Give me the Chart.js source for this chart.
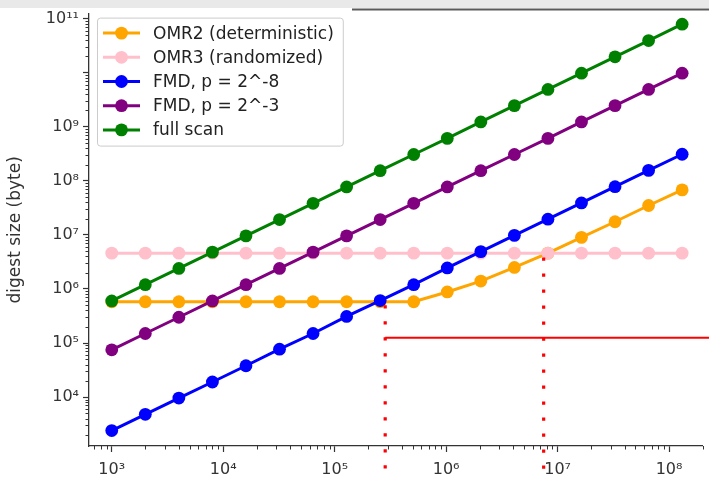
<!DOCTYPE html>
<html>
<head>
<meta charset="utf-8">
<script src="https://cdn.jsdelivr.net/npm/chart.js@4/dist/chart.umd.min.js"></script>
<style>
  html, body { margin: 0; padding: 0; background: #fff; }
  canvas { display: block; }
</style>
</head>
<body>
<canvas id="digest-chart" width="709" height="477"></canvas>
<script>
// Data (log-log, x doubles each step)
const xValues = [1000, 2000, 4000, 8000, 16000, 32000, 64000, 128000, 256000, 512000,
  1024000, 2048000, 4096000, 8192000, 16384000, 32768000, 65536000, 131072000];
const omr2 = [5.8e5, 5.8e5, 5.8e5, 5.8e5, 5.8e5, 5.8e5, 5.8e5, 5.8e5, 5.8e5, 5.8e5,
  8.8e5, 1.4e6, 2.5e6, 4.6e6, 9.0e6, 1.75e7, 3.5e7, 6.8e7];
const omr3 = [4.6e6, 4.6e6, 4.6e6, 4.6e6, 4.6e6, 4.6e6, 4.6e6, 4.6e6, 4.6e6, 4.6e6,
  4.6e6, 4.6e6, 4.6e6, 4.6e6, 4.6e6, 4.6e6, 4.6e6, 4.6e6];
const fmd8 = [2.4e3, 4.8e3, 9.6e3, 1.9e4, 3.8e4, 7.7e4, 1.5e5, 3.1e5, 6.1e5, 1.2e6,
  2.45e6, 4.9e6, 9.8e6, 1.95e7, 3.9e7, 7.8e7, 1.56e8, 3.1e8];
const fmd3 = [7.5e4, 1.5e5, 3.0e5, 6.0e5, 1.2e6, 2.4e6, 4.8e6, 9.6e6, 1.92e7, 3.84e7,
  7.7e7, 1.54e8, 3.07e8, 6.1e8, 1.23e9, 2.46e9, 4.9e9, 9.8e9];
const fullScan = [6.0e5, 1.2e6, 2.4e6, 4.8e6, 9.6e6, 1.92e7, 3.84e7, 7.7e7, 1.54e8, 3.07e8,
  6.1e8, 1.23e9, 2.46e9, 4.9e9, 9.8e9, 1.97e10, 3.93e10, 7.9e10];

const seriesNames = ['OMR2 (deterministic)', 'OMR3 (randomized)', 'FMD, p = 2^-8', 'FMD, p = 2^-3', 'full scan'];
const seriesColors = ['#ffa500', '#ffc0cb', '#0000ff', '#800080', '#008000'];

const xTickValues = [1e3, 1e4, 1e5, 1e6, 1e7, 1e8];
const xTickLabels = ['10³', '10⁴', '10⁵', '10⁶', '10⁷', '10⁸'];
const yTickValues = [1e4, 1e5, 1e6, 1e7, 1e8, 1e9, 1e10, 1e11];
const yTickLabels = ['10⁴', '10⁵', '10⁶', '10⁷', '10⁸', '10⁹', '', '10¹¹'];

// red annotation marks
const markerX = [2.84e5, 7.5e6];
const markerTop = [5.0e5, 3.8e6];
const thresholdY = 1.25e5;

const FONT = '"DejaVu Sans", sans-serif';

function toPoints(ys) {
  return xValues.map((x, i) => ({ x: x, y: ys[i] }));
}

const allSeries = [omr2, omr3, fmd8, fmd3, fullScan];
const datasets = allSeries.map((ys, i) => ({
  label: seriesNames[i],
  data: toPoints(ys),
  borderColor: seriesColors[i],
  backgroundColor: seriesColors[i],
  pointBackgroundColor: seriesColors[i],
  pointBorderWidth: 0,
  pointRadius: 6.4,
  borderWidth: 3,
  tension: 0,
  order: allSeries.length - i,
}));

// white background + screenshot band at top
const backdrop = {
  id: 'backdrop',
  beforeDraw(chart) {
    const ctx = chart.ctx;
    ctx.save();
    ctx.fillStyle = '#ffffff';
    ctx.fillRect(0, 0, chart.width, chart.height);
    ctx.fillStyle = '#e9e9e9';
    ctx.fillRect(0, 0, chart.width, 8);
    ctx.strokeStyle = '#5a5a5a';
    ctx.lineWidth = 2;
    ctx.beginPath();
    ctx.moveTo(352, 9.5);
    ctx.lineTo(chart.width, 9.5);
    ctx.stroke();
    ctx.restore();
  },
};

// short minor ticks like matplotlib's log axes
const minorTicks = {
  id: 'minorTicks',
  afterDraw(chart) {
    const ctx = chart.ctx;
    const xs = chart.scales.x;
    const ys = chart.scales.y;
    ctx.save();
    ctx.strokeStyle = '#333';
    ctx.lineWidth = 1;
    ctx.beginPath();
    for (let n = 2; n <= 8; n++) {
      for (let m = 2; m <= 9; m++) {
        const v = m * Math.pow(10, n);
        if (v < xs.min || v > xs.max) continue;
        const px = Math.round(xs.getPixelForValue(v)) + 0.5;
        ctx.moveTo(px, xs.top);
        ctx.lineTo(px, xs.top + 3.5);
      }
    }
    for (let n = 3; n <= 11; n++) {
      for (let m = 2; m <= 9; m++) {
        const v = m * Math.pow(10, n);
        if (v < ys.min || v > ys.max) continue;
        const py = Math.round(ys.getPixelForValue(v)) + 0.5;
        ctx.moveTo(ys.right, py);
        ctx.lineTo(ys.right - 3.5, py);
      }
    }
    ctx.stroke();
    ctx.restore();
  },
};

// red hand-drawn guides: two dotted verticals and a horizontal line
const redGuides = {
  id: 'redGuides',
  afterDraw(chart) {
    const ctx = chart.ctx;
    const xs = chart.scales.x;
    const ys = chart.scales.y;
    ctx.save();
    ctx.strokeStyle = '#ff0000';
    const hx = xs.getPixelForValue(markerX[0]);
    const hy = ys.getPixelForValue(thresholdY);
    ctx.lineWidth = 2;
    ctx.beginPath();
    ctx.moveTo(hx, hy);
    ctx.lineTo(chart.width, hy);
    ctx.stroke();
    ctx.lineWidth = 3.2;
    ctx.setLineDash([3.2, 12.8]);
    markerX.forEach((mx, i) => {
      const px = xs.getPixelForValue(mx);
      ctx.beginPath();
      ctx.moveTo(px, ys.getPixelForValue(markerTop[i]));
      ctx.lineTo(px, chart.height);
      ctx.stroke();
    });
    ctx.restore();
  },
};

// matplotlib-style legend box inside the axes
const boxLegend = {
  id: 'boxLegend',
  afterDraw(chart) {
    const ctx = chart.ctx;
    const area = chart.chartArea;
    const left = area.left + 8;
    const top = area.top + 4;
    const rowH = 24.2;
    ctx.save();
    ctx.font = '17px ' + FONT;
    let maxW = 0;
    chart.data.datasets.forEach((d) => { maxW = Math.max(maxW, ctx.measureText(d.label).width); });
    const w = 56 + maxW + 9;
    const h = rowH * chart.data.datasets.length + 7;
    ctx.fillStyle = 'rgba(255,255,255,0.85)';
    ctx.strokeStyle = '#cccccc';
    ctx.lineWidth = 1;
    ctx.beginPath();
    ctx.roundRect(left + 0.5, top + 0.5, w, h, 3);
    ctx.fill();
    ctx.stroke();
    chart.data.datasets.forEach((d, i) => {
      const cy = top + 15.5 + i * rowH;
      ctx.strokeStyle = d.borderColor;
      ctx.lineWidth = 3;
      ctx.beginPath();
      ctx.moveTo(left + 6, cy);
      ctx.lineTo(left + 43, cy);
      ctx.stroke();
      ctx.fillStyle = d.borderColor;
      ctx.beginPath();
      ctx.arc(left + 24.5, cy, 6.4, 0, Math.PI * 2);
      ctx.fill();
      ctx.fillStyle = '#222';
      ctx.textBaseline = 'middle';
      ctx.fillText(d.label, left + 56, cy + 1);
    });
    ctx.restore();
  },
};

new Chart(document.getElementById('digest-chart').getContext('2d'), {
  type: 'line',
  data: { datasets: datasets },
  options: {
    responsive: false,
    animation: false,
    layout: { padding: { top: 13, right: 0, bottom: 0, left: 0 } },
    plugins: {
      legend: { display: false },
      tooltip: { enabled: false },
    },
    scales: {
      x: {
        type: 'logarithmic',
        min: 625,
        max: 2.0e8,
        afterBuildTicks: (axis) => { axis.ticks = xTickValues.map((v) => ({ value: v })); },
        afterFit: (axis) => { axis.height = 31; },
        grid: { drawOnChartArea: false, tickLength: 6, tickColor: '#333', tickWidth: 1.2 },
        border: { color: '#333', width: 1.3 },
        ticks: {
          autoSkip: false,
          maxRotation: 0,
          padding: 8,
          color: '#333',
          font: { family: FONT, size: 16 },
          callback: (v) => xTickLabels[xTickValues.indexOf(v)],
        },
      },
      y: {
        type: 'logarithmic',
        min: 1245,
        max: 1.24e11,
        afterBuildTicks: (axis) => { axis.ticks = yTickValues.map((v) => ({ value: v })); },
        afterFit: (axis) => { axis.width = 89; },
        grid: { drawOnChartArea: false, tickLength: 6, tickColor: '#333', tickWidth: 1.2 },
        border: { color: '#333', width: 1.3 },
        title: {
          display: true,
          text: 'digest size (byte)',
          color: '#333',
          font: { family: FONT, size: 17 },
          padding: { top: 5, bottom: 0 },
        },
        ticks: {
          autoSkip: false,
          padding: 4,
          color: '#333',
          font: { family: FONT, size: 16 },
          callback: (v) => yTickLabels[yTickValues.indexOf(v)],
        },
      },
    },
  },
  plugins: [backdrop, minorTicks, redGuides, boxLegend],
});
</script>
</body>
</html>
